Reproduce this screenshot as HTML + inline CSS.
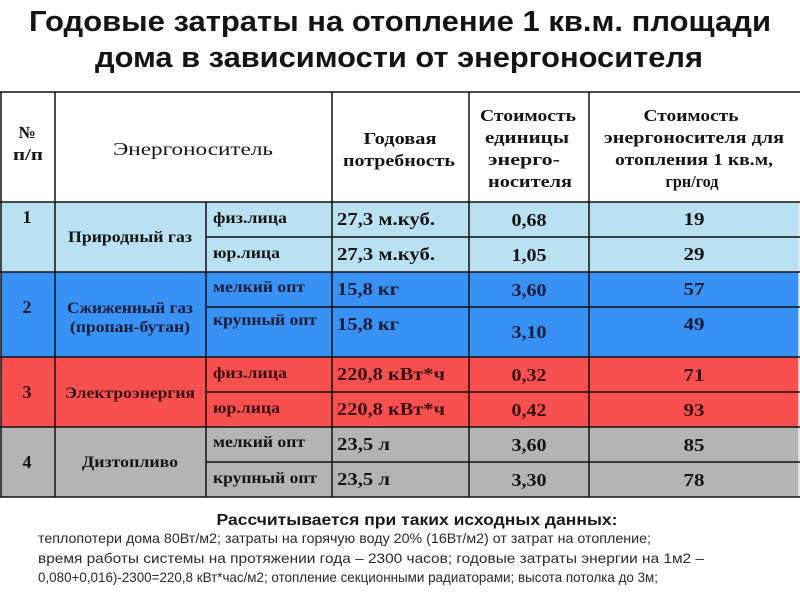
<!DOCTYPE html>
<html><head><meta charset="utf-8">
<style>
html,body{margin:0;padding:0;background:#fff;}
svg{display:block;}
.t{font-family:"Liberation Sans","DejaVu Sans",sans-serif;font-weight:bold;fill:#141414;font-size:29px;}
.h{font-family:"Liberation Serif","DejaVu Serif",serif;font-weight:bold;fill:#151515;font-size:17px;}
.hr{font-family:"Liberation Serif","DejaVu Serif",serif;font-weight:normal;fill:#151515;font-size:18px;}
.b{font-family:"Liberation Serif","DejaVu Serif",serif;font-weight:bold;fill:#141414;font-size:18px;}
.s{font-family:"Liberation Serif","DejaVu Serif",serif;font-weight:bold;fill:#141414;font-size:16px;}
.n{font-family:"Liberation Sans","DejaVu Sans",sans-serif;font-weight:normal;fill:#2a2a2a;font-size:14px;}
.nb{font-family:"Liberation Sans","DejaVu Sans",sans-serif;font-weight:bold;fill:#1a1a1a;font-size:16px;}
.blue text{fill:#0e1c3a;}
.red text{fill:#3a0c0c;}
</style></head>
<body>
<svg width="800" height="600" viewBox="0 0 800 600" xmlns="http://www.w3.org/2000/svg">
<rect x="0" y="0" width="800" height="600" fill="#fff"/>
<!-- Title -->
<text class="t" x="400" y="31" text-anchor="middle" textLength="742" lengthAdjust="spacingAndGlyphs">Годовые затраты на отопление 1 кв.м. площади</text>
<text class="t" x="399" y="67" text-anchor="middle" textLength="608" lengthAdjust="spacingAndGlyphs">дома в зависимости от энергоносителя</text>

<!-- Row backgrounds -->
<rect x="1" y="202" width="798" height="70" fill="#b9e1f1"/>
<rect x="1" y="272" width="798" height="85" fill="#3891f5"/>
<rect x="1" y="357" width="798" height="70" fill="#fa4f4f"/>
<rect x="1" y="427" width="798" height="70" fill="#b4b4b4"/>
<line x1="799" y1="202" x2="799" y2="497" stroke="#e0e0e0" stroke-width="1.5"/>

<!-- Grid -->
<g stroke="#111" stroke-width="1.5">
<line x1="0" y1="92" x2="800" y2="92"/>
<line x1="0" y1="202" x2="800" y2="202"/>
<line x1="206" y1="237" x2="800" y2="237"/>
<line x1="0" y1="272" x2="800" y2="272"/>
<line x1="206" y1="307" x2="800" y2="307"/>
<line x1="0" y1="357" x2="800" y2="357"/>
<line x1="206" y1="392" x2="800" y2="392"/>
<line x1="0" y1="427" x2="800" y2="427"/>
<line x1="206" y1="462" x2="800" y2="462"/>
<line x1="0" y1="497" x2="800" y2="497"/>
<line x1="1" y1="92" x2="1" y2="497"/>
<line x1="55" y1="92" x2="55" y2="497"/>
<line x1="206" y1="202" x2="206" y2="497"/>
<line x1="332" y1="92" x2="332" y2="497"/>
<line x1="469" y1="92" x2="469" y2="497"/>
<line x1="589" y1="92" x2="589" y2="497"/>
</g>

<!-- Header -->
<text class="h" x="27" y="138" text-anchor="middle">№</text>
<text class="h" x="28" y="160" text-anchor="middle" textLength="30" lengthAdjust="spacingAndGlyphs">п/п</text>
<text class="hr" x="193" y="155" text-anchor="middle" textLength="160" lengthAdjust="spacingAndGlyphs">Энергоноситель</text>
<text class="h" x="400" y="144" text-anchor="middle" textLength="73" lengthAdjust="spacingAndGlyphs">Годовая</text>
<text class="h" x="399" y="166" text-anchor="middle" textLength="112" lengthAdjust="spacingAndGlyphs">потребность</text>
<text class="h" x="528" y="121" text-anchor="middle" textLength="96" lengthAdjust="spacingAndGlyphs">Стоимость</text>
<text class="h" x="527" y="143" text-anchor="middle" textLength="84" lengthAdjust="spacingAndGlyphs">единицы</text>
<text class="h" x="524" y="165" text-anchor="middle" textLength="72" lengthAdjust="spacingAndGlyphs">энерго-</text>
<text class="h" x="530" y="187" text-anchor="middle" textLength="84" lengthAdjust="spacingAndGlyphs">носителя</text>
<text class="h" x="691" y="121" text-anchor="middle" textLength="95" lengthAdjust="spacingAndGlyphs">Стоимость</text>
<text class="h" x="694" y="143" text-anchor="middle" textLength="180" lengthAdjust="spacingAndGlyphs">энергоносителя для</text>
<text class="h" x="694" y="165" text-anchor="middle" textLength="158" lengthAdjust="spacingAndGlyphs">отопления 1 кв.м,</text>
<text class="h" x="692" y="187" text-anchor="middle" textLength="53" lengthAdjust="spacingAndGlyphs">грн/год</text>

<!-- Row 1: gas -->
<g>
<text class="b" x="27" y="223" text-anchor="middle">1</text>
<text class="s" x="130" y="242" text-anchor="middle" textLength="124" lengthAdjust="spacingAndGlyphs">Природный газ</text>
<text class="s" x="213" y="223" textLength="74" lengthAdjust="spacingAndGlyphs">физ.лица</text>
<text class="s" x="213" y="258" textLength="67" lengthAdjust="spacingAndGlyphs">юр.лица</text>
<text class="b" x="337" y="225" textLength="98" lengthAdjust="spacingAndGlyphs">27,3 м.куб.</text>
<text class="b" x="337" y="260" textLength="98" lengthAdjust="spacingAndGlyphs">27,3 м.куб.</text>
<text class="b" x="529" y="226" text-anchor="middle" textLength="35" lengthAdjust="spacingAndGlyphs">0,68</text>
<text class="b" x="529" y="261" text-anchor="middle" textLength="35" lengthAdjust="spacingAndGlyphs">1,05</text>
<text class="b" x="694" y="225" text-anchor="middle" textLength="21" lengthAdjust="spacingAndGlyphs">19</text>
<text class="b" x="694" y="260" text-anchor="middle" textLength="21" lengthAdjust="spacingAndGlyphs">29</text>
</g>

<!-- Row 2: LPG -->
<g class="blue">
<text class="b" x="27" y="313" text-anchor="middle">2</text>
<text class="s" x="130" y="313" text-anchor="middle" textLength="126" lengthAdjust="spacingAndGlyphs">Сжиженный газ</text>
<text class="s" x="130" y="332" text-anchor="middle" textLength="120" lengthAdjust="spacingAndGlyphs">(пропан-бутан)</text>
<text class="s" x="213" y="292" textLength="92" lengthAdjust="spacingAndGlyphs">мелкий опт</text>
<text class="s" x="213" y="325" textLength="104" lengthAdjust="spacingAndGlyphs">крупный опт</text>
<text class="b" x="337" y="295" textLength="62" lengthAdjust="spacingAndGlyphs">15,8 кг</text>
<text class="b" x="337" y="330" textLength="62" lengthAdjust="spacingAndGlyphs">15,8 кг</text>
<text class="b" x="529" y="296" text-anchor="middle" textLength="35" lengthAdjust="spacingAndGlyphs">3,60</text>
<text class="b" x="529" y="338" text-anchor="middle" textLength="35" lengthAdjust="spacingAndGlyphs">3,10</text>
<text class="b" x="694" y="295" text-anchor="middle" textLength="21" lengthAdjust="spacingAndGlyphs">57</text>
<text class="b" x="694" y="330" text-anchor="middle" textLength="21" lengthAdjust="spacingAndGlyphs">49</text>
</g>

<!-- Row 3: electricity -->
<g class="red">
<text class="b" x="27" y="398" text-anchor="middle">3</text>
<text class="s" x="130" y="398" text-anchor="middle" textLength="130" lengthAdjust="spacingAndGlyphs">Электроэнергия</text>
<text class="s" x="213" y="378" textLength="74" lengthAdjust="spacingAndGlyphs">физ.лица</text>
<text class="s" x="213" y="413" textLength="67" lengthAdjust="spacingAndGlyphs">юр.лица</text>
<text class="b" x="337" y="380" textLength="108" lengthAdjust="spacingAndGlyphs">220,8 кВт*ч</text>
<text class="b" x="337" y="415" textLength="108" lengthAdjust="spacingAndGlyphs">220,8 кВт*ч</text>
<text class="b" x="529" y="381" text-anchor="middle" textLength="35" lengthAdjust="spacingAndGlyphs">0,32</text>
<text class="b" x="529" y="416" text-anchor="middle" textLength="35" lengthAdjust="spacingAndGlyphs">0,42</text>
<text class="b" x="694" y="381" text-anchor="middle" textLength="21" lengthAdjust="spacingAndGlyphs">71</text>
<text class="b" x="694" y="416" text-anchor="middle" textLength="21" lengthAdjust="spacingAndGlyphs">93</text>
</g>

<!-- Row 4: diesel -->
<g>
<text class="b" x="27" y="468" text-anchor="middle">4</text>
<text class="s" x="130" y="467" text-anchor="middle" textLength="96" lengthAdjust="spacingAndGlyphs">Дизтопливо</text>
<text class="s" x="213" y="447" textLength="92" lengthAdjust="spacingAndGlyphs">мелкий опт</text>
<text class="s" x="213" y="483" textLength="104" lengthAdjust="spacingAndGlyphs">крупный опт</text>
<text class="b" x="337" y="450" textLength="53" lengthAdjust="spacingAndGlyphs">23,5 л</text>
<text class="b" x="337" y="485" textLength="53" lengthAdjust="spacingAndGlyphs">23,5 л</text>
<text class="b" x="529" y="451" text-anchor="middle" textLength="35" lengthAdjust="spacingAndGlyphs">3,60</text>
<text class="b" x="529" y="486" text-anchor="middle" textLength="35" lengthAdjust="spacingAndGlyphs">3,30</text>
<text class="b" x="694" y="451" text-anchor="middle" textLength="21" lengthAdjust="spacingAndGlyphs">85</text>
<text class="b" x="694" y="486" text-anchor="middle" textLength="21" lengthAdjust="spacingAndGlyphs">78</text>
</g>

<!-- Footnote -->
<text class="nb" x="417" y="525" text-anchor="middle" textLength="401" lengthAdjust="spacingAndGlyphs">Рассчитывается при таких исходных данных:</text>
<text class="n" x="38" y="543" textLength="613" lengthAdjust="spacingAndGlyphs">теплопотери дома 80Вт/м2; затраты на горячую воду 20% (16Вт/м2) от затрат на отопление;</text>
<text class="n" x="38" y="563" textLength="666" lengthAdjust="spacingAndGlyphs">время работы системы на протяжении года – 2300 часов; годовые затраты энергии на 1м2 –</text>
<text class="n" x="38" y="582" textLength="620" lengthAdjust="spacingAndGlyphs">0,080+0,016)-2300=220,8 кВт*час/м2; отопление секционными радиаторами; высота потолка до 3м;</text>
</svg>
</body></html>
